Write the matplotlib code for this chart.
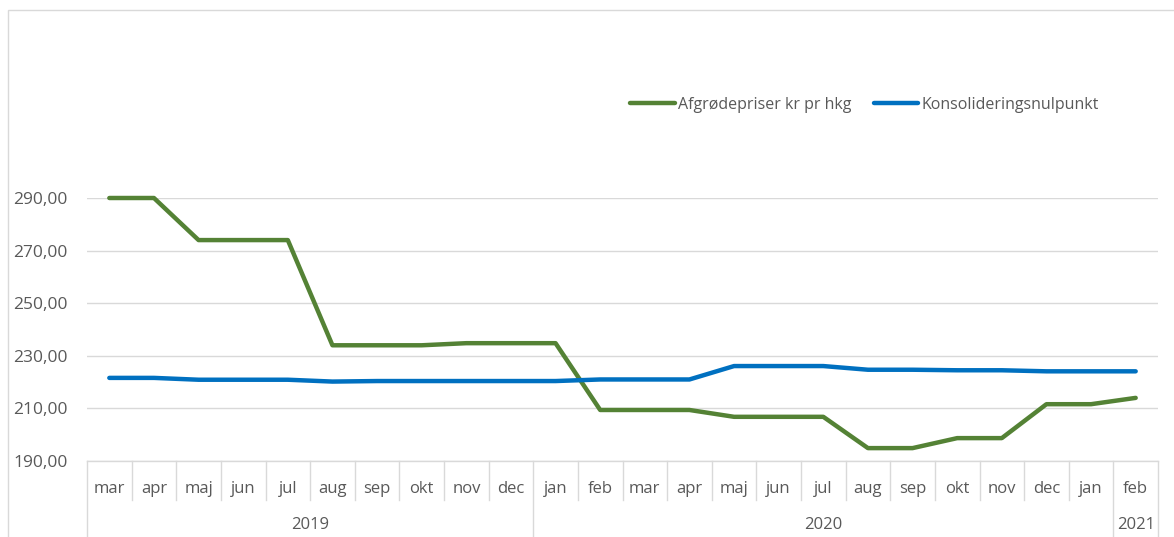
import matplotlib
matplotlib.use("Agg")
import matplotlib.pyplot as plt
import matplotlib.transforms as mtransforms
from matplotlib.patches import Rectangle
import numpy as np

months = ["mar", "apr", "maj", "jun", "jul", "aug", "sep", "okt", "nov", "dec",
          "jan", "feb", "mar", "apr", "maj", "jun", "jul", "aug", "sep", "okt",
          "nov", "dec", "jan", "feb"]
years = ["2019", "2020", "2021"]
year_counts = [10, 13, 1]

afgrode = [290, 290, 274, 274, 274, 234, 234, 234, 234.8, 234.8,
           234.8, 209.4, 209.4, 209.4, 206.8, 206.8, 206.8, 194.9, 194.9, 198.7,
           198.7, 211.6, 211.6, 214.0]
konsol = [221.6, 221.6, 220.9, 220.9, 220.9, 220.2, 220.4, 220.4, 220.4, 220.4,
          220.4, 221.0, 221.0, 221.0, 226.1, 226.1, 226.1, 224.7, 224.7, 224.5,
          224.5, 224.1, 224.1, 224.1]

series_names = ["Afgrødepriser kr pr hkg", "Konsolideringsnulpunkt"]
yticks = [190, 210, 230, 250, 270, 290]

GREEN = "#548235"
BLUE = "#0070C0"
GRID = "#D9D9D9"
TXT = "#595959"
FS = 11.5
FS_Y = 12.5
FS_X = 12

plt.rcParams["font.family"] = ["Open Sans", "DejaVu Sans"]

W, H = 1174, 537
fig = plt.figure(figsize=(W / 100, H / 100), dpi=100)
left, right, top, bottom = 87, 1158, 198, 461
ax = fig.add_axes([left / W, 1 - bottom / H, (right - left) / W, (bottom - top) / H])

# outer chart border
fig.patches.append(Rectangle((8 / W, -0.1), 1.2, 1 - 10 / H + 0.1, transform=fig.transFigure,
                             fill=False, edgecolor=GRID, linewidth=1))

x = np.arange(len(months))
ax.plot(x, afgrode, color=GREEN, linewidth=3.2, solid_capstyle="round", solid_joinstyle="round",
        label=series_names[0], zorder=3, clip_on=False)
ax.plot(x, konsol, color=BLUE, linewidth=3.2, solid_capstyle="round", solid_joinstyle="round",
        label=series_names[1], zorder=3, clip_on=False)

ax.set_xlim(-0.5, len(months) - 0.5)
ax.set_ylim(190, 290)
ax.set_yticks(yticks)
ax.set_yticklabels([f"{v:.2f}".replace(".", ",") for v in yticks], color=TXT, fontsize=FS_Y)
ax.tick_params(axis="y", length=0, pad=14)
ax.grid(axis="y", color=GRID, linewidth=1)
ax.set_axisbelow(True)
for s in ["top", "right", "left"]:
    ax.spines[s].set_visible(False)
ax.spines["bottom"].set_color(GRID)
ax.spines["bottom"].set_linewidth(1)

ax.set_xticks([])
trans = mtransforms.blended_transform_factory(ax.transData, ax.transAxes)
hpx = bottom - top
m_lab = -28 / hpx
m_sep = -39 / hpx
y_lab = -64 / hpx
y_sep = -76 / hpx

for i, m in enumerate(months):
    ax.text(i, m_lab, m, transform=trans, ha="center", va="center", color=TXT, fontsize=FS_X)

# year boundaries
bounds = np.concatenate([[0], np.cumsum(year_counts)])
for b in range(len(months) + 1):
    ybot = y_sep if b in bounds else m_sep
    ax.plot([b - 0.5, b - 0.5], [0, ybot], transform=trans, color=GRID, linewidth=1, clip_on=False)
for yi, yr in enumerate(years):
    cx = (bounds[yi] + bounds[yi + 1] - 1) / 2
    ax.text(cx, y_lab, yr, transform=trans, ha="center", va="center", color=TXT, fontsize=FS_X)

leg = fig.legend(loc="center", bbox_to_anchor=(864.5 / W, 1 - 105 / H), ncol=2, frameon=False,
                 fontsize=FS, handlelength=2.8, handletextpad=0.2, columnspacing=1.4)
for t in leg.get_texts():
    t.set_color(TXT)

fig.savefig("out.png", dpi=100)
